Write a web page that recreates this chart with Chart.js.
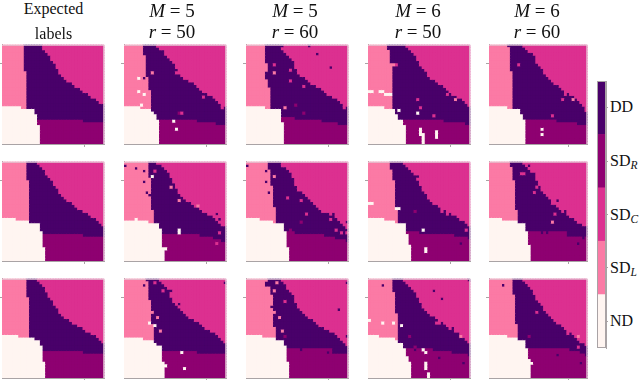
<!DOCTYPE html>
<html><head><meta charset="utf-8">
<script src="https://cdn.jsdelivr.net/npm/chart.js@4"></script>
<style>
html,body{margin:0;padding:0;background:#fff;width:640px;height:380px;overflow:hidden}
canvas{position:absolute;filter:blur(0.35px)}
.t{position:absolute;font-family:"Liberation Serif",serif;color:#111;white-space:nowrap;text-align:center;line-height:20px;height:20px}
.l{position:absolute;font-family:"Liberation Serif",serif;font-size:16px;color:#111;left:610px;line-height:20px;height:20px;white-space:nowrap}
.l sub{font-style:italic;font-size:11.5px;line-height:0;vertical-align:-3px}
</style></head><body>
<script>
const CLASS_LABELS=['ND','SD_L','SD_C','SD_R','DD'];
const CLASS_COLORS=['#fff5f1','#fb7aa5','#dc3090','#8e0071','#49006a'];
const N=0,L=1,C=2,R=3,D=4;
const COLS=38,ROWS=37,ND_FIRST=21,SDR_FIRST=26;
const COL_TITLES=[['Expected','labels'],['5','50'],['5','60'],['6','50'],['6','60']];

// per-row class edges: nd (rows 21-36), left (rows 0-23), sdr (rows 26-36), dd (rows 0-25)
const nd11=[0,0,7,12,12,13,13,13,13,14,14,14,14,14,14,14];
const left11=[8,8,8,8,8,8,8,8,8,8,9,9,9,9,9,9,9,9,9,9,9,9,9,9];
const sdr11=[0,0,30,38,38,38,38,38,38,38,38];
const dd11=[15,15,16,17,18,18,19,20,20,21,21,22,23,24,26,27,29,30,32,33,35,36,38];
const noise11=[];
const nd21=[5,10,14,14,14,15,15,15,15,15,15,16,16,16,16,16];
const left21=[9,9,9,9,9,9,9,10,10,10,10,10,10,10,10,10,10,10,10,10,10,10,10,10];
const sdr21=[0,30,38,38,38,38,38,38,38,38,38];
const dd21=[13,14,15,16,16,17,18,19,19,20,21,21,22,23,24,26,27,28,30,32,33,35,36,37];
const noise21=[];
const nd31=[6,12,14,14,15,15,15,15,15,15,16,16,16,16,16,16];
const left31=[9,9,9,9,9,9,9,10,10,10,10,10,10,10,10,10,10,10,10,10,10,10,10,10];
const sdr31=[0,30,38,38,38,38,38,38,38,38,38];
const dd31=[13,14,15,16,16,17,17,18,19,19,20,21,21,22,23,25,26,28,30,31,33,35,36,37];
const noise31=[];

const nd12=[0,0,6,10,11,12,12,13,13,13,13,13,13,13,13,13];
const left12=[7,7,7,7,8,8,8,8,8,8,8,8,9,9,9,9,9,10,10,10,10,10,10,10];
const sdr12=[0,0,27,34,38,38,38,38,38,38,38];
const dd12=[12,14,15,15,16,17,18,19,19,20,20,21,22,24,26,27,28,29,31,33,34,35,36,38];
const noise12=[[13,1,C],[10,10,L],[5,12,N],[7,12,D],[5,17,N],[7,18,N],[19,10,C],[21,11,C],[29,19,C],[36,23,C],[21,25,C],[20,25,R],[18,28,N],[19,31,N],[6,22,N]];
const nd22=[0,9,13,13,14,14,14,14,14,14,14,16,15,15,15,15];
const left22=[9,9,9,9,9,9,10,10,10,10,10,10,10,10,10,10,10,10,11,11,11,11,11,11];
const sdr22=[0,28,33,36,38,38,38,38,38,38,38];
const dd22=[12,14,15,16,17,17,18,18,19,19,20,20,21,22,23,25,26,28,29,31,33,34,35,36];
const noise22=[[0,1,D],[4,2,D],[7,3,D],[9,5,D],[7,7,D],[8,11,D],[9,12,D],[10,5,N],[11,3,C],[17,9,L],[20,14,L],[27,16,L],[34,19,D],[35,21,D],[35,26,C],[34,28,D],[34,30,C],[20,25,N],[20,26,N],[4,21,N]];
const nd32=[0,7,11,12,14,14,14,14,14,14,15,16,15,15,15,15];
const left32=[8,9,9,9,9,9,9,10,10,10,10,10,10,10,10,10,10,11,11,11,11,11,11,11];
const sdr32=[0,28,38,38,38,38,38,38,38,38,38];
const dd32=[13,14,15,16,17,17,17,18,18,19,20,21,22,23,24,26,28,29,30,32,34,35,36,37];
const noise32=[[37,1,D],[7,2,D],[11,1,C],[14,4,C],[16,4,D],[17,4,D],[9,7,D],[20,9,D],[10,12,L],[12,14,L],[9,16,N],[11,17,N],[13,19,L],[21,27,N],[22,33,N],[27,27,D]];

const nd13=[0,0,7,13,13,13,13,13,14,14,14,14,14,14,14,14];
const left13=[7,7,7,7,7,7,8,8,8,8,7,7,7,8,8,8,9,9,9,9,9,9,9,9];
const sdr13=[0,18,28,34,38,38,38,38,38,38,38];
const dd13=[14,14,14,15,16,17,18,18,18,19,19,20,22,23,24,26,28,29,30,32,34,35,36,38];
const noise13=[[23,0,D],[26,3,D],[31,8,D],[13,1,C],[10,7,C],[10,10,L],[16,9,C],[19,10,C],[16,13,C],[21,15,C],[14,23,L],[18,22,R],[36,23,C],[21,25,R],[13,30,N],[35,27,D],[7,6,D]];
const nd23=[5,10,14,14,14,15,15,15,15,15,15,16,16,16,16,16];
const left23=[8,8,8,9,9,9,9,9,9,10,10,10,10,10,10,10,10,11,11,11,11,11,11,11];
const sdr23=[18,29,33,37,38,38,38,38,38,38,38];
const dd23=[13,14,15,16,17,17,18,18,19,19,20,21,22,23,24,25,26,27,28,31,33,34,35,36,37,38];
const noise23=[[0,1,D],[7,3,D],[7,7,D],[8,11,D],[10,12,D],[10,5,L],[13,1,C],[18,8,C],[19,10,C],[15,13,C],[20,14,C],[22,19,C],[20,22,R],[31,21,C],[32,19,D],[37,22,D],[37,23,C],[33,25,C],[35,26,C],[37,26,C],[37,28,D],[16,25,R],[20,26,D]];
const nd33=[6,11,14,14,15,15,15,15,15,15,16,16,16,16,16,16];
const left33=[8,7,7,9,9,9,10,10,10,10,9,10,10,10,10,10,10,10,11,11,11,11,11,11];
const sdr33=[32,32,38,38,38,38,38,38,38,38,38];
const dd33=[13,14,15,15,16,17,18,18,18,19,19,20,21,22,23,25,26,27,29,31,33,34,35,36,37,38];
const noise33=[[37,1,D],[34,11,D],[37,21,D],[11,1,L],[10,4,L],[14,8,C],[19,9,C],[12,14,L],[13,19,L],[14,21,R],[20,26,D],[30,27,D],[10,12,L]];

const nd14=[0,0,6,10,10,11,11,13,13,14,14,14,14,14,14,14];
const left14=[7,7,8,8,8,8,8,9,9,9,9,9,9,9,9,9,9,9,9,9,9,9,9,9];
const sdr14=[0,0,28,36,38,38,38,38,38,38,38];
const dd14=[14,15,16,17,18,18,19,19,20,21,22,22,23,25,26,28,29,30,31,33,35,36,37,38];
const noise14=[[9,7,L],[10,7,C],[0,17,N],[1,17,N],[4,17,N],[5,17,N],[6,18,N],[7,18,N],[8,18,N],[18,20,C],[19,23,C],[18,25,N],[24,26,C],[29,18,C],[32,20,L],[11,24,N],[19,31,N],[19,32,N],[19,33,N],[20,33,N],[20,34,N],[20,35,N],[20,36,N],[25,32,N],[25,33,N],[25,34,N]];
const nd24=[6,10,14,14,14,14,15,15,15,15,16,16,16,16,16,16];
const left24=[8,8,8,9,9,9,9,10,10,10,10,10,10,10,10,10,10,10,11,11,11,11,11,11];
const sdr24=[19,32,37,38,38,38,38,38,38,38,38];
const dd24=[13,14,15,16,17,18,18,19,19,20,20,21,22,22,23,24,26,27,29,31,33,34,36,37];
const noise24=[[0,15,N],[1,15,N],[10,17,N],[11,17,N],[17,18,R],[27,18,C],[29,19,C],[20,25,N],[15,29,R],[21,32,N],[21,33,N],[34,30,D],[36,25,C],[37,28,D],[18,5,D]];
const nd34=[4,10,11,13,13,14,14,14,15,15,16,16,16,16,16,16];
const left34=[9,9,9,9,9,10,10,10,10,10,10,10,10,10,11,11,11,11,11,11,11,11,11,11];
const sdr34=[24,31,37,38,38,38,38,38,38,38,38];
const dd34=[13,14,15,16,17,18,18,19,19,20,20,21,22,23,25,26,28,29,30,32,34,35,36,37];
const noise34=[[5,2,D],[24,4,D],[27,7,D],[37,0,D],[0,15,N],[5,16,N],[9,16,N],[12,17,N],[10,13,L],[20,10,C],[25,16,C],[26,16,C],[31,18,D],[34,21,L],[15,21,R],[17,25,R],[20,26,N],[21,27,N],[26,29,D],[35,31,D],[21,31,N],[21,32,N],[21,33,N],[22,35,N],[22,36,N],[37,27,D],[17,26,D]];

const nd15=[0,0,7,12,12,13,13,14,14,14,14,14,14,14,14,14];
const left15=[7,8,8,8,8,8,8,8,8,8,9,9,9,9,9,9,9,9,9,9,9,9,9,9];
const sdr15=[0,0,26,34,38,38,38,38,38,38,38];
const dd15=[13,14,15,17,18,18,18,19,20,21,21,22,23,24,25,27,28,29,31,33,34,35,36,37];
const noise15=[[11,7,C],[29,18,C],[32,20,L],[28,20,C],[24,26,C],[20,31,N],[20,33,N],[37,24,C]];
const nd25=[5,11,14,14,14,15,15,15,15,15,16,16,16,16,16,16];
const left25=[8,8,9,9,9,9,9,10,10,10,10,10,10,10,10,10,10,10,11,11,11,11,11,11];
const sdr25=[30,30,38,38,38,38,38,38,38,38,38];
const dd25=[13,14,15,16,17,18,18,19,19,20,20,21,22,23,24,24,26,27,28,30,31,33,34,36];
const noise25=[[15,1,D],[12,4,C],[13,4,C],[17,4,D],[18,9,C],[17,11,C],[26,14,D],[25,19,C],[29,18,D],[24,22,L],[36,28,D],[34,30,D],[15,29,R],[20,26,D],[22,26,D]];
const nd35=[7,11,14,14,14,15,15,15,15,16,16,16,16,16,16,16];
const left35=[9,9,9,9,9,9,10,10,10,10,10,10,10,10,10,10,10,11,11,11,11,11,11,11];
const sdr35=[31,35,37,38,38,38,38,38,38,38,38];
const dd35=[13,14,15,16,17,17,18,18,19,20,21,21,22,23,24,25,26,28,29,30,32,33,34,35,37,38];
const noise35=[[5,2,D],[18,12,C],[15,21,R],[30,20,C],[34,21,L],[34,25,C],[26,28,D],[35,31,D],[16,31,N]];

const PANEL_X=[2,124,246,368,489];
const PANEL_W=[103,103,103,103,99];
const PANEL_Y=[44,161,278];
const PANEL_H=100;
const XTICK=[30.6];
const YTICK=[7];

const SETS=[
 [[nd11,left11,sdr11,dd11,noise11],[nd12,left12,sdr12,dd12,noise12],[nd13,left13,sdr13,dd13,noise13],[nd14,left14,sdr14,dd14,noise14],[nd15,left15,sdr15,dd15,noise15]],
 [[nd21,left21,sdr21,dd21,noise21],[nd22,left22,sdr22,dd22,noise22],[nd23,left23,sdr23,dd23,noise23],[nd24,left24,sdr24,dd24,noise24],[nd25,left25,sdr25,dd25,noise25]],
 [[nd31,left31,sdr31,dd31,noise31],[nd32,left32,sdr32,dd32,noise32],[nd33,left33,sdr33,dd33,noise33],[nd34,left34,sdr34,dd34,noise34],[nd35,left35,sdr35,dd35,noise35]]
];

function cells(set){
  const [nd,left,sdr,dd,noise]=set;
  const g=[];
  for(let r=0;r<ROWS;r++){
    const a=r>=ND_FIRST?nd[r-ND_FIRST]:0;
    const b=Math.max(a,r<left.length?left[r]:0);
    const c=Math.max(b,r>=SDR_FIRST?sdr[r-SDR_FIRST]:0);
    const d=r<dd.length?dd[r]:COLS;
    const row=[];
    for(let k=0;k<COLS;k++) row.push(k<a?N:k<b?L:k<c?R:k<d?D:C);
    g.push(row);
  }
  noise.forEach(([k,r,v])=>{g[r][k]=v;});
  const pts=CLASS_LABELS.map(()=>[]);
  g.forEach((row,r)=>row.forEach((v,k)=>pts[v].push({x:k+.5,y:r+.5})));
  return pts;
}
const frame={id:'frame',afterDraw(ch){
  const {left,top,right,bottom}=ch.chartArea,x=ch.ctx;
  x.save();x.strokeStyle='#e3c9d3';x.lineWidth=1;x.beginPath();
  x.moveTo(left,top+.5);x.lineTo(right,top+.5);x.moveTo(right-.5,top);x.lineTo(right-.5,bottom);x.stroke();x.restore();
}};
function canvas(x,y,w,h){
  const c=document.createElement('canvas');
  c.width=w;c.height=h;c.style.left=x+'px';c.style.top=y+'px';c.style.width=w+'px';c.style.height=h+'px';
  document.body.appendChild(c);return c;
}
const GREY='#a9a3a5';
SETS.forEach((rowSets,i)=>rowSets.forEach((set,j)=>{
  const w=PANEL_W[j],h=PANEL_H;
  const c=canvas(PANEL_X[j]-4,PANEL_Y[i]-2,w+6,h+6);
  const pts=cells(set);
  const half=w/COLS/2;
  const ds=(p,v,rad)=>({label:CLASS_LABELS[v],data:p,pointStyle:'rect',pointRadius:rad,pointHoverRadius:rad,pointBorderWidth:0,backgroundColor:CLASS_COLORS[v],borderColor:CLASS_COLORS[v]});
  // Chart.js paints the first dataset last: exact cells sit on top of a slightly larger layer that closes the seams
  const top=pts.map((p,v)=>ds(p,v,(half+.02)*Math.SQRT2));
  const under=pts.map((p,v)=>ds(p,v,(half+.6)*Math.SQRT2));
  new Chart(c,{type:'scatter',
    data:{datasets:top.concat(under)},
    options:{responsive:false,animation:false,events:[],
      layout:{padding:{left:1,top:2,right:2,bottom:1}},
      plugins:{legend:{display:false},tooltip:{enabled:false}},
      scales:{
        x:{type:'linear',min:0,max:COLS,ticks:{display:false},afterBuildTicks(s){s.ticks=XTICK.map(v=>({value:v}));},
           grid:{drawOnChartArea:false,tickLength:3,color:GREY},border:{color:GREY}},
        y:{type:'linear',min:0,max:ROWS,reverse:true,ticks:{display:false},afterBuildTicks(s){s.ticks=YTICK.map(v=>({value:v}));},
           grid:{drawOnChartArea:false,tickLength:3,color:GREY},border:{color:GREY}}
      }},
    plugins:[frame]});
}));
// colour bar
const CB_TICKS=[.5,1.5,2.5,3.5,4.5];
const cb=canvas(594,78,14,273);
new Chart(cb,{type:'bar',
  data:{labels:[''],datasets:CLASS_LABELS.map((n,v)=>({label:n,data:[1],backgroundColor:CLASS_COLORS[v],barPercentage:1,categoryPercentage:1,stack:'s'}))},
  options:{responsive:false,animation:false,events:[],
    layout:{padding:{left:3,top:3,right:0,bottom:3}},
    plugins:{legend:{display:false},tooltip:{enabled:false}},
    scales:{
      x:{display:false,stacked:true},
      y:{position:'right',stacked:true,min:0,max:5,ticks:{display:false},afterBuildTicks(s){s.ticks=CB_TICKS.map(v=>({value:v}));},
         grid:{drawOnChartArea:false,tickLength:2,color:GREY},border:{color:GREY}}
    }},
  plugins:[{id:'outline',afterDraw(ch){const {left,top,right,bottom}=ch.chartArea,x=ch.ctx;x.save();x.strokeStyle=GREY;x.lineWidth=1;x.strokeRect(left+.5,top+.5,right-left-1,bottom-top-1);x.restore();}}]});
// texts
function text(cls,html,left,top,width,size){
  const d=document.createElement('div');d.className=cls;d.innerHTML=html;
  d.style.left=left+'px';d.style.top=top+'px';
  if(width)d.style.width=width+'px';
  if(size)d.style.fontSize=size+'px';
  document.body.appendChild(d);
}
const CX=[53.5,172,295,418,537];
COL_TITLES.forEach((t,j)=>{
  if(j===0){
    text('t',t[0],CX[j]-50,-1,100,16);
    text('t',t[1],CX[j]-50,24,100,16);
  }else{
    text('t','<i>M</i>&nbsp;=&nbsp;'+t[0],CX[j]-50,1,100,19);
    text('t','<i>r</i>&nbsp;=&nbsp;'+t[1],CX[j]-50,22,100,19);
  }
});
const CB_TEXT=['ND','SD<sub>L</sub>','SD<sub>C</sub>','SD<sub>R</sub>','DD'];
const CB_TOP=[311,258,205,151,97];
CB_TEXT.forEach((s,i)=>text('l',s,610,CB_TOP[i]));
</script>
</body></html>
